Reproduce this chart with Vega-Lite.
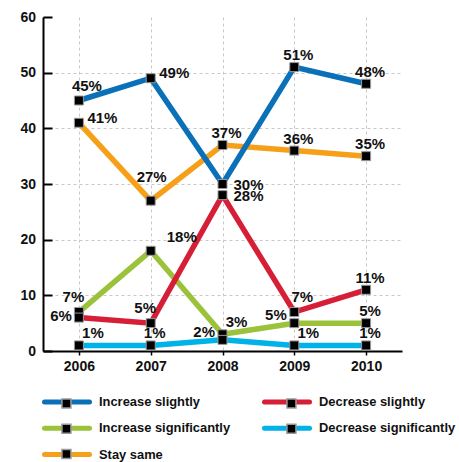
{
  "$schema": "https://vega.github.io/schema/vega-lite/v6.json",
  "width": 359,
  "height": 334,
  "autosize": "none",
  "padding": {"left": 43, "top": 17, "right": 57, "bottom": 111},
  "background": "white",
  "config": {
    "view": {"stroke": null},
    "text": {"font": "Liberation Sans", "fontWeight": "bold", "fontSize": 15, "color": "#111111", "baseline": "middle", "align": "center"}
  },
  "data": {
    "values": [
      {"series": "Stay same", "year": 2006, "value": 41},
      {"series": "Stay same", "year": 2007, "value": 27},
      {"series": "Stay same", "year": 2008, "value": 37},
      {"series": "Stay same", "year": 2009, "value": 36},
      {"series": "Stay same", "year": 2010, "value": 35},
      {"series": "Increase significantly", "year": 2006, "value": 7},
      {"series": "Increase significantly", "year": 2007, "value": 18},
      {"series": "Increase significantly", "year": 2008, "value": 3},
      {"series": "Increase significantly", "year": 2009, "value": 5},
      {"series": "Increase significantly", "year": 2010, "value": 5},
      {"series": "Decrease slightly", "year": 2006, "value": 6},
      {"series": "Decrease slightly", "year": 2007, "value": 5},
      {"series": "Decrease slightly", "year": 2008, "value": 28},
      {"series": "Decrease slightly", "year": 2009, "value": 7},
      {"series": "Decrease slightly", "year": 2010, "value": 11},
      {"series": "Decrease significantly", "year": 2006, "value": 1},
      {"series": "Decrease significantly", "year": 2007, "value": 1},
      {"series": "Decrease significantly", "year": 2008, "value": 2},
      {"series": "Decrease significantly", "year": 2009, "value": 1},
      {"series": "Decrease significantly", "year": 2010, "value": 1},
      {"series": "Increase slightly", "year": 2006, "value": 45},
      {"series": "Increase slightly", "year": 2007, "value": 49},
      {"series": "Increase slightly", "year": 2008, "value": 30},
      {"series": "Increase slightly", "year": 2009, "value": 51},
      {"series": "Increase slightly", "year": 2010, "value": 48}
    ]
  },
  "transform": [
    {"calculate": "datum.value + '%'", "as": "label"},
    {"calculate": "datum.series + ' ' + datum.year", "as": "key"},
    {"calculate": "datum.series", "as": "series_key"}
  ],
  "encoding": {
    "x": {
      "field": "year",
      "type": "ordinal",
      "scale": {"type": "point", "padding": 0.5},
      "axis": {
        "title": null,
        "labelAngle": 0,
        "labelFont": "Liberation Sans",
        "labelFontWeight": "bold",
        "labelFontSize": 14,
        "labelColor": "#111111",
        "labelPadding": 4,
        "domainColor": "black",
        "domainWidth": 2,
        "tickColor": "black",
        "tickSize": 4,
        "tickWidth": 1.5,
        "grid": true,
        "gridColor": "#c8c8c8",
        "gridDash": [3, 3],
        "gridWidth": 1
      }
    },
    "y": {
      "field": "value",
      "type": "quantitative",
      "scale": {"domain": [0, 60], "nice": false},
      "axis": {
        "title": null,
        "values": [0, 10, 20, 30, 40, 50, 60],
        "labelFont": "Liberation Sans",
        "labelFontWeight": "bold",
        "labelFontSize": 14,
        "labelColor": "#111111",
        "labelPadding": 16.5,
        "domainColor": "black",
        "domainWidth": 2,
        "tickColor": "black",
        "tickSize": -9,
        "tickWidth": 2,
        "grid": true,
        "gridColor": "#c8c8c8",
        "gridDash": [3, 3],
        "gridWidth": 1,
        "gridOpacity": {"condition": {"test": "datum.value === 60 || datum.value === 0", "value": 0}, "value": 1}
      }
    }
  },
  "layer": [
    {
      "mark": {"type": "line", "strokeWidth": 5.5},
      "encoding": {
        "color": {
          "field": "series",
          "type": "nominal",
          "scale": {
            "domain": ["Increase slightly", "Increase significantly", "Stay same", "Decrease slightly", "Decrease significantly"],
            "range": ["#0a71b8", "#9bc23b", "#f6a01a", "#d61f37", "#00b2e7"]
          },
          "legend": {
            "orient": "none",
            "legendX": 17,
            "legendY": 378,
            "title": null,
            "padding": 0,
            "columns": 2,
            "columnPadding": 31,
            "rowPadding": 12.3,
            "symbolType": "M-5,0H5",
            "symbolSize": 81,
            "symbolStrokeWidth": 5,
            "labelOffset": 25,
            "labelFont": "Liberation Sans",
            "labelFontWeight": "bold",
            "labelFontSize": 12.9,
            "labelColor": "#111111",
            "labelLimit": 300,
            "encode": {"symbols": {"update": {"strokeCap": {"value": "round"}, "strokeJoin": {"value": "round"}}}}
          }
        }
      }
    },
    {
      "mark": {"type": "point", "filled": true, "color": "black", "stroke": "#9a9a9a", "strokeWidth": 1, "size": 81, "opacity": 1},
      "encoding": {
        "shape": {
          "field": "series_key",
          "type": "nominal",
          "sort": ["Increase slightly", "Increase significantly", "Stay same", "Decrease slightly", "Decrease significantly"],
          "scale": {"range": ["M-5.89,0M5.89,0M-1,-1H1V1H-1Z"]},
          "legend": {
            "orient": "none",
            "legendX": 17,
            "legendY": 380,
            "title": null,
            "padding": 0,
            "columns": 2,
            "columnPadding": 31,
            "rowPadding": 9.3,
            "symbolSize": 81,
            "labelOffset": 25,
            "labelFont": "Liberation Sans",
            "labelFontWeight": "bold",
            "labelFontSize": 12.9,
            "labelOpacity": 0,
            "labelLimit": 300,
            "encode": {"symbols": {"update": {"fill": {"value": "black"}, "stroke": {"value": "#9a9a9a"}, "strokeWidth": {"value": 1}, "strokeJoin": {"value": "round"}, "opacity": {"value": 1}}}}
          }
        }
      }
    },
    {
      "transform": [{"filter": {"field": "key", "oneOf": ["Increase slightly 2009", "Increase slightly 2010", "Stay same 2008", "Stay same 2009", "Stay same 2010", "Increase significantly 2010", "Decrease significantly 2007", "Decrease significantly 2010", "Decrease slightly 2010"]}}],
      "mark": {"type": "text", "dx": 4, "dy": -12},
      "encoding": {"text": {"field": "label"}}
    },
    {
      "transform": [{"filter": {"field": "key", "oneOf": ["Decrease slightly 2007", "Increase significantly 2006"]}}],
      "mark": {"type": "text", "dx": -5.5, "dy": -15},
      "encoding": {"text": {"field": "label"}}
    },
    {
      "transform": [{"filter": {"field": "key", "oneOf": ["Increase slightly 2006", "Decrease slightly 2009"]}}],
      "mark": {"type": "text", "dx": 8, "dy": -15},
      "encoding": {"text": {"field": "label"}}
    },
    {
      "transform": [{"filter": {"field": "key", "oneOf": ["Stay same 2007"]}}],
      "mark": {"type": "text", "dx": 1, "dy": -24},
      "encoding": {"text": {"field": "label"}}
    },
    {
      "transform": [{"filter": {"field": "key", "oneOf": ["Stay same 2006", "Increase slightly 2007"]}}],
      "mark": {"type": "text", "align": "left", "dx": 8.5, "dy": -5},
      "encoding": {"text": {"field": "label"}}
    },
    {
      "transform": [{"filter": {"field": "key", "oneOf": ["Increase slightly 2008", "Decrease slightly 2008"]}}],
      "mark": {"type": "text", "align": "left", "dx": 11, "dy": 0.5},
      "encoding": {"text": {"field": "label"}}
    },
    {
      "transform": [{"filter": {"field": "key", "oneOf": ["Increase significantly 2007"]}}],
      "mark": {"type": "text", "align": "left", "dx": 16, "dy": -14},
      "encoding": {"text": {"field": "label"}}
    },
    {
      "transform": [{"filter": {"field": "key", "oneOf": ["Decrease significantly 2008", "Increase significantly 2009"]}}],
      "mark": {"type": "text", "align": "right", "dx": -7.5, "dy": -8},
      "encoding": {"text": {"field": "label"}}
    },
    {
      "transform": [{"filter": {"field": "key", "oneOf": ["Decrease slightly 2006"]}}],
      "mark": {"type": "text", "align": "right", "dx": -7, "dy": -2},
      "encoding": {"text": {"field": "label"}}
    },
    {
      "transform": [{"filter": {"field": "key", "oneOf": ["Decrease significantly 2006", "Decrease significantly 2009", "Increase significantly 2008"]}}],
      "mark": {"type": "text", "dx": 14, "dy": -12},
      "encoding": {"text": {"field": "label"}}
    }
  ]
}
